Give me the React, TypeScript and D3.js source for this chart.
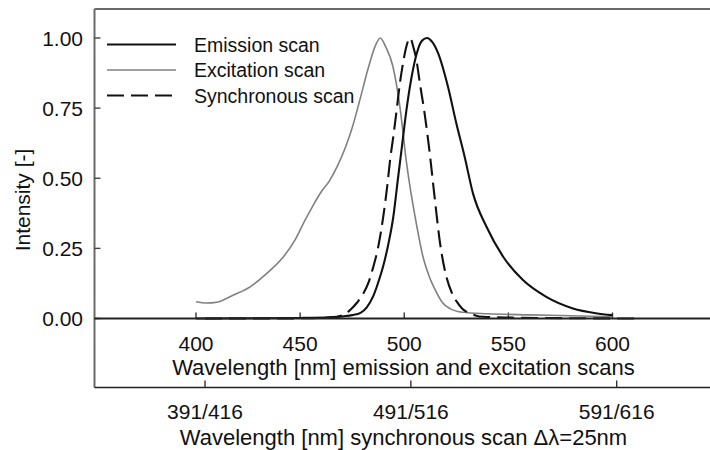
import React from "react";
import * as d3 from "d3";

// Excitation scan (wavelength nm, intensity)
const excitationWl = [400, 405, 410, 418, 426, 434, 442, 448, 452, 456, 460, 464, 468, 472, 475, 478.7, 483, 486, 488.5, 491, 494.5, 498, 501, 506, 509, 512, 515, 518, 522, 528, 540, 560, 580, 600];
const excitationI = [0.06, 0.055, 0.058, 0.084, 0.113, 0.161, 0.22, 0.286, 0.345, 0.4, 0.45, 0.49, 0.545, 0.615, 0.68, 0.78, 0.9, 0.97, 1.0, 0.97, 0.9, 0.75, 0.56, 0.33, 0.22, 0.15, 0.1, 0.06, 0.035, 0.022, 0.017, 0.013, 0.01, 0.006];

// Emission scan
const emissionWl = [400, 450, 465, 471, 475, 479, 482, 485, 488, 490, 492.5, 494.7, 497, 499, 501, 503.5, 506, 508.5, 511, 513.5, 516.3, 521, 525, 529, 533, 539.5, 547.5, 557, 568, 581, 592, 600];
const emissionI = [0, 0.002, 0.004, 0.008, 0.012, 0.02, 0.04, 0.078, 0.14, 0.19, 0.27, 0.36, 0.5, 0.62, 0.74, 0.86, 0.945, 0.99, 1.0, 0.985, 0.945, 0.826, 0.696, 0.577, 0.446, 0.327, 0.22, 0.137, 0.078, 0.036, 0.019, 0.012];

// Synchronous scan (excitation wavelength, Δλ = 25 nm)
const syncWl = [391, 420, 440, 452, 458, 461.5, 465, 468, 470.5, 472.8, 475, 477.6, 479.5, 481, 482.5, 484.1, 485.7, 487.2, 488.5, 490.6, 492.5, 493.5, 495.4, 497.9, 500, 502.7, 505.2, 508.4, 511, 513.3, 516, 518.1, 522, 526, 540, 570, 601];
const syncI = [0, 0, 0.001, 0.004, 0.012, 0.03, 0.058, 0.09, 0.13, 0.185, 0.25, 0.363, 0.47, 0.57, 0.65, 0.743, 0.84, 0.91, 0.96, 1.0, 0.96, 0.93, 0.838, 0.72, 0.6, 0.422, 0.268, 0.145, 0.09, 0.06, 0.035, 0.024, 0.012, 0.006, 0.003, 0.001, 0];

const yTicks = [0, 0.25, 0.5, 0.75, 1.0];
const emTicks = [400, 450, 500, 550, 600];
const syncTicks = [391, 491, 591];
const syncTickLabels = ["391/416", "491/516", "591/616"];

const legendLabels = ["Emission scan", "Excitation scan", "Synchronous scan"];

const FONT = "'Liberation Sans', Arial, sans-serif";

export default function App() {
  const left = 94.5;
  const right = 710;
  const top = 9;
  const baseY = 318.5;
  const bottom = 387.5;

  const x = d3.scaleLinear().domain([400, 600]).range([196, 612.5]);
  const xs = d3.scaleLinear().domain([391, 591]).range([205, 616.7]);
  const y = d3.scaleLinear().domain([0, 1]).range([baseY, 38]);

  const mk = (sx: d3.ScaleLinear<number, number>, wl: number[], vals: number[]) =>
    d3
      .line<number>()
      .x((_, i) => sx(wl[i]))
      .y((v) => y(v))
      .curve(d3.curveMonotoneX)(vals) as string;

  const excPath = mk(x, excitationWl, excitationI);
  const emPath = mk(x, emissionWl, emissionI);
  const syncPath = mk(xs, syncWl, syncI);

  const legendY = [44.5, 70, 95.5];
  const legendStyles = [
    { stroke: "#111", width: 2.1, dash: undefined as string | undefined },
    { stroke: "#808080", width: 1.6, dash: undefined },
    { stroke: "#111", width: 2.1, dash: "17,7" },
  ];

  return (
    <svg
      width={710}
      height={450}
      style={{ position: "absolute", left: 0, top: 0, background: "#fff" }}
      fontFamily={FONT}
    >
      <rect x={0} y={0} width={710} height={450} fill="#fff" />
      {/* frame */}
      <line x1={left} x2={right} y1={top} y2={top} stroke="#6a6a6a" strokeWidth={2.2} />
      <line x1={left} x2={left} y1={top} y2={bottom} stroke="#6a6a6a" strokeWidth={2} />
      <line x1={left} x2={right} y1={bottom} y2={bottom} stroke="#222" strokeWidth={1.6} />

      {/* y ticks */}
      {yTicks.map((t) => (
        <g key={t}>
          <line x1={left} x2={left + 6} y1={y(t)} y2={y(t)} stroke="#444" strokeWidth={1.4} />
          <text x={83} y={y(t)} dy="0.36em" textAnchor="end" fontSize={21} fill="#111">
            {t.toFixed(2)}
          </text>
        </g>
      ))}
      <text
        transform={`translate(22,${200}) rotate(-90)`}
        textAnchor="middle"
        dy="0.36em"
        fontSize={21}
        fill="#111"
      >
        Intensity [-]
      </text>

      {/* emission/excitation axis */}
      {emTicks.map((t) => (
        <g key={t}>
          <line x1={x(t)} x2={x(t)} y1={baseY} y2={baseY - 6} stroke="#333" strokeWidth={1.4} />
          <text x={x(t)} y={343} dy="0.36em" textAnchor="middle" fontSize={21} fill="#111">
            {t}
          </text>
        </g>
      ))}
      <text x={403.5} y={367} dy="0.36em" textAnchor="middle" fontSize={22} fill="#111">
        Wavelength [nm] emission and excitation scans
      </text>

      {/* synchronous axis */}
      {syncTicks.map((t, i) => (
        <g key={t}>
          <line x1={xs(t)} x2={xs(t)} y1={bottom} y2={bottom - 7} stroke="#333" strokeWidth={1.4} />
          <text x={xs(t)} y={411} dy="0.36em" textAnchor="middle" fontSize={21} fill="#111">
            {syncTickLabels[i]}
          </text>
        </g>
      ))}
      <text x={403.5} y={437} dy="0.36em" textAnchor="middle" fontSize={22} fill="#111">
        Wavelength [nm] synchronous scan Δλ=25nm
      </text>

      {/* curves */}
      <path d={excPath} fill="none" stroke="#808080" strokeWidth={1.6} />
      <path d={syncPath} fill="none" stroke="#111" strokeWidth={2.1} strokeDasharray="17,7" />
      <path d={emPath} fill="none" stroke="#111" strokeWidth={2.1} />

      {/* baseline drawn over */}
      <line x1={left} x2={right} y1={baseY} y2={baseY} stroke="#222" strokeWidth={2} />

      {/* legend */}
      {legendLabels.map((lab, i) => (
        <g key={lab}>
          <line
            x1={107}
            x2={176}
            y1={legendY[i]}
            y2={legendY[i]}
            stroke={legendStyles[i].stroke}
            strokeWidth={legendStyles[i].width}
            strokeDasharray={legendStyles[i].dash}
          />
          <text x={194} y={legendY[i]} dy="0.36em" fontSize={19.5} fill="#111">
            {lab}
          </text>
        </g>
      ))}
    </svg>
  );
}
